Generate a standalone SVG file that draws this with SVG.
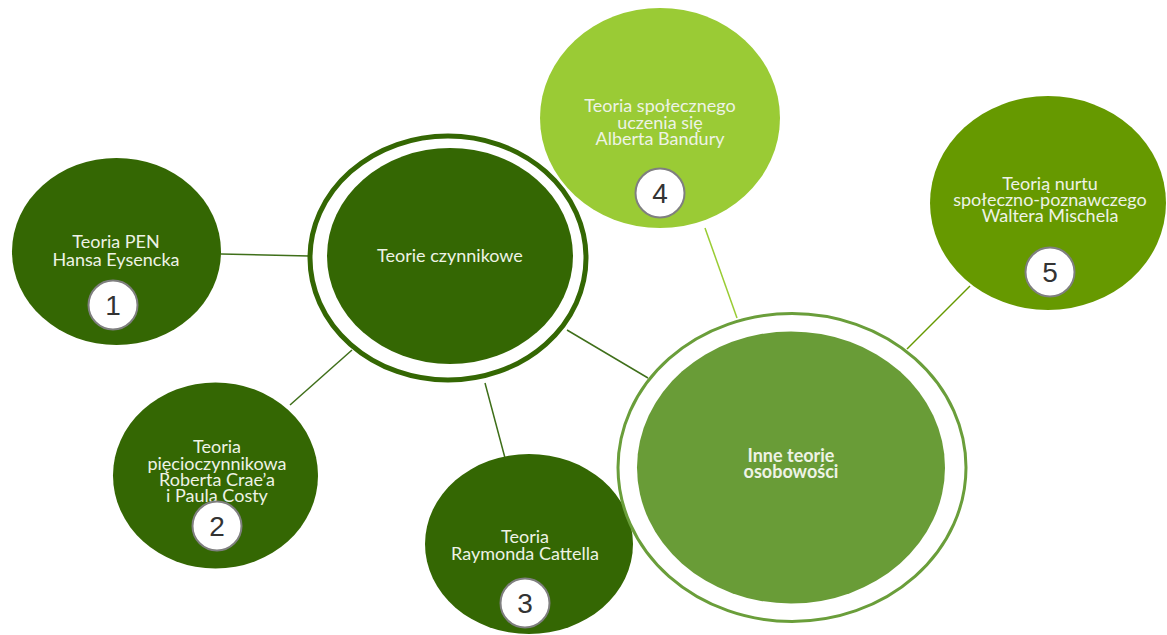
<svg xmlns="http://www.w3.org/2000/svg" width="1167" height="635" viewBox="0 0 1167 635">
<style>
.dark{fill:#346703;}
.t{font-family:Lato,"Open Sans","Liberation Sans",sans-serif;font-size:18px;fill:#eef3e6;text-anchor:middle;}
.b{font-weight:bold;}
.badge{fill:#ffffff;stroke:#7f7f7f;stroke-width:2;}
.num{font-family:"Liberation Sans",Arial,sans-serif;font-size:28px;fill:#333333;text-anchor:middle;}
.ln{fill:none;stroke-width:1.5;}
</style>
<rect width="1167" height="635" fill="#ffffff"/>
<g id="connectors">
<line class="ln" x1="221" y1="254" x2="309" y2="256" stroke="#3f6f1a"/>
<line class="ln" x1="290" y1="405" x2="352" y2="350" stroke="#3f6f1a"/>
<line class="ln" x1="485" y1="383" x2="505" y2="458" stroke="#3f6f1a"/>
<line class="ln" x1="567" y1="330" x2="648" y2="378" stroke="#3f6f1a"/>
<line class="ln" x1="705" y1="228" x2="737" y2="318" stroke="#99cc33"/>
<line class="ln" x1="970" y1="286" x2="907" y2="349" stroke="#669900"/>
</g>
<g id="node-central">
<ellipse cx="448" cy="258" rx="138" ry="122" fill="#ffffff" stroke="#346703" stroke-width="5"/>
<ellipse class="dark" cx="450" cy="256" rx="123" ry="108"/>
<text class="t" x="450" y="262">Teorie czynnikowe</text>
</g>
<g id="node-1">
<ellipse class="dark" cx="116.5" cy="251.5" rx="104.5" ry="93.5"/>
<text class="t" x="116" y="248">Teoria PEN</text>
<text class="t" x="116" y="265.5">Hansa Eysencka</text>
<circle class="badge" cx="113" cy="305" r="24.5"/>
<text class="num" x="113" y="315">1</text>
</g>
<g id="node-2">
<ellipse class="dark" cx="215.5" cy="475.5" rx="102.5" ry="93"/>
<text class="t" x="217" y="453">Teoria</text>
<text class="t" x="217" y="469.5">pięcioczynnikowa</text>
<text class="t" x="217" y="486">Roberta Crae’a</text>
<text class="t" x="217" y="502">i Paula Costy</text>
<circle class="badge" cx="217" cy="526" r="24.5"/>
<text class="num" x="217" y="536">2</text>
</g>
<g id="node-3">
<ellipse class="dark" cx="529" cy="544" rx="104" ry="90"/>
<text class="t" x="525" y="543">Teoria</text>
<text class="t" x="525" y="560">Raymonda Cattella</text>
<circle class="badge" cx="525" cy="603" r="24.5"/>
<text class="num" x="525" y="613">3</text>
</g>
<g id="node-4">
<ellipse cx="660" cy="118" rx="120" ry="110" fill="#9acb35"/>
<text class="t" x="660" y="112">Teoria społecznego</text>
<text class="t" x="660" y="128.5">uczenia się</text>
<text class="t" x="660" y="145">Alberta Bandury</text>
<circle class="badge" cx="660" cy="193" r="24.5"/>
<text class="num" x="660" y="203">4</text>
</g>
<g id="node-5">
<ellipse cx="1048" cy="203" rx="118" ry="107" fill="#669900"/>
<text class="t" x="1050" y="190">Teorią nurtu</text>
<text class="t" x="1050" y="206">społeczno-poznawczego</text>
<text class="t" x="1050" y="222">Waltera Mischela</text>
<circle class="badge" cx="1050" cy="272" r="24.5"/>
<text class="num" x="1050" y="282">5</text>
</g>
<g id="node-inne">
<ellipse cx="792" cy="467.5" rx="174" ry="154" fill="#ffffff" stroke="#6a9e3a" stroke-width="3"/>
<ellipse cx="791" cy="467.5" rx="154" ry="136" fill="#699c37"/>
<text class="t b" x="791" y="462">Inne teorie</text>
<text class="t b" x="791" y="478">osobowości</text>
</g>
</svg>
